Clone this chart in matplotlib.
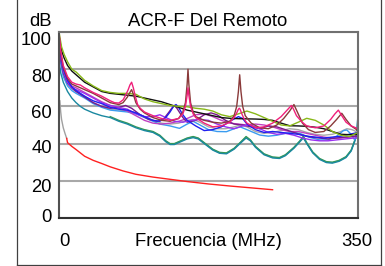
import matplotlib
matplotlib.use('Agg')
import matplotlib.pyplot as plt
from matplotlib.lines import Line2D

# ---------------- data ----------------
title = "ACR-F Del Remoto"
y_unit = "dB"
x_label = "Frecuencia (MHz)"
x_tick_labels = ["0", "350"]
x_range = [0, 350]
y_ticks = [0, 20, 40, 60, 80, 100]

limit_start_x = [1, 2, 3, 5, 7, 9]
limit_start_y = [63, 57, 53, 48.5, 45.5, 42.8]

limit_x = [9, 10, 15, 20, 30, 40, 50, 60, 75, 90, 110, 130, 150, 175, 200, 225, 250]
limit_y = [42.8, 40.5, 38.5, 36.8, 33.2, 31, 29.3, 27.5, 25.3, 23.5, 22, 20.8, 19.6, 18.3, 17.2, 16.2, 15.2]

olive_x = [0, 3, 6, 10, 15, 20, 30, 40, 50, 60, 70, 80, 90, 100, 110, 120, 130, 140, 150, 160, 170, 180, 190,
           200, 210, 220, 230, 240, 250, 260, 270, 280, 290, 300, 310, 320, 330, 340, 350]
olive_y = [100, 92, 88, 84, 80, 78.5, 74, 71, 68.5, 67.5, 67, 67, 66.5, 64, 62.5, 61.5, 60.5, 60, 59.8, 59, 58.5,
           57.5, 55.5, 54.5, 56, 57.5, 56, 54, 52, 50, 49.5, 51.5, 53.6, 52.5, 50, 46.5, 44.5, 43.8, 46]

black_x = olive_x
black_y = [98, 90, 86, 82, 79, 77, 73, 70.5, 68, 67, 66.5, 66, 65.5, 64.5, 63.5, 62.5, 61, 59.5, 58, 57, 56, 55,
           54, 53.6, 53.4, 53.3, 53.2, 53, 52.5, 51, 49.6, 49.5, 49.3, 48.8, 48, 46.5, 45, 44.8, 45]

pink_x = [0, 2, 5, 10, 15, 20, 25, 30, 40, 50, 60, 65, 70, 75, 78, 81, 83, 85, 87, 89, 92, 95, 100, 110, 120,
          130, 140, 145, 148, 150, 151, 152, 154, 157, 160, 170, 180, 190, 200, 205, 208, 210, 211, 212, 214,
          217, 220, 230, 240, 250, 260, 266, 270, 272, 274, 278, 284, 290, 300, 310, 318, 323, 327, 331, 336,
          342, 350]
pink_y = [100, 90, 82, 76, 73, 72, 71.5, 70, 67.5, 65.5, 63, 62, 61.8, 63.5, 66, 69, 71.5, 73, 70, 66, 61, 59,
          57, 55, 53.5, 52.5, 53.5, 56, 60, 66, 70, 66, 60, 56, 54, 51, 49, 49.5, 51.5, 54, 56.5, 58.5, 59, 58.5,
          56, 53, 51, 48.5, 49, 51, 54.5, 57.5, 59.5, 60.5, 59, 55, 51.8, 49.5, 48.5, 49.5, 53, 56, 58, 55,
          51.5, 49.5, 48]

brown_x = [0, 2, 5, 10, 15, 20, 30, 40, 50, 60, 70, 75, 80, 83, 85, 87, 90, 95, 100, 110, 120, 130, 140, 145,
           148, 150, 151, 152, 154, 157, 160, 170, 180, 190, 200, 205, 208, 210, 211.5, 213, 215, 218, 225, 235,
           245, 255, 263, 270, 275, 279, 285, 292, 300, 310, 318, 325, 331, 336, 342, 350]
brown_y = [99, 89, 81, 75, 72, 71, 69, 67, 64.5, 62, 61, 62, 65, 67.5, 69, 66.5, 62, 58.5, 56.5, 54, 52.5, 52,
           53.5, 57, 62, 72, 80, 72, 62, 57, 54.5, 52.5, 51.5, 51, 52, 55, 60, 68, 77, 68, 60, 55, 51, 48.5, 48,
           50, 53.5, 57.5, 61, 57, 51, 47.5, 46, 46.5, 49.5, 53, 56.3, 53, 49.5, 47]

blue_x = [0, 2, 5, 10, 15, 20, 30, 40, 50, 60, 70, 80, 90, 100, 110, 118, 125, 130, 134, 137, 140, 145, 150,
          160, 170, 180, 190, 200, 210, 215, 220, 230, 240, 250, 260, 270, 280, 290, 300, 310, 320, 330, 340, 350]
blue_y = [96, 88, 80, 74, 70.5, 68.5, 65.5, 63, 61.5, 59.5, 58.5, 58, 56.5, 54.5, 52.5, 52, 54, 57, 60, 61,
          59.5, 55.5, 52.5, 49.5, 47, 47.5, 49, 52, 54.5, 53.5, 50.5, 47.5, 46, 46.5, 46, 45.5, 45, 44, 43.5,
          43, 43.5, 44, 45, 46]

violet_x = [0, 2, 5, 10, 15, 20, 30, 40, 50, 60, 70, 80, 90, 100, 110, 118, 125, 135, 145, 155, 165, 175, 185,
            195, 205, 215, 225, 235, 245, 255, 265, 275, 285, 295, 305, 315, 325, 335, 345, 350]
violet_y = [97, 87, 79, 73, 70, 69, 67, 64.5, 62, 60.5, 59.5, 58.5, 56, 54.5, 54.5, 55.5, 54, 52, 51.5, 52.5,
            53, 52.5, 50.5, 49, 48, 49.5, 50, 48, 46, 45, 45.5, 44.5, 43, 42, 41.5, 41.5, 42, 42.5, 43, 43]

purple_x = [0, 2, 5, 10, 15, 20, 30, 40, 50, 60, 70, 78, 85, 95, 105, 115, 122, 128, 132, 135, 138, 145, 150,
            160, 170, 178, 185, 195, 205, 215, 225, 235, 245, 255, 265, 275, 285, 295, 305, 315, 325, 335, 345,
            350]
purple_y = [95, 85, 78, 72.5, 70, 68, 65, 62, 60, 59, 59.5, 60.5, 59, 55.5, 53, 52, 53, 56.5, 59, 60.5, 59, 54,
            51.5, 52.5, 55.5, 56.5, 55.5, 52.5, 50.5, 50, 49, 48, 49.5, 49, 47.5, 46, 44.5, 43.5, 43, 42.5, 43,
            43.5, 44, 44]

magenta_x = [0, 2, 5, 10, 15, 20, 30, 40, 50, 60, 70, 80, 90, 100, 110, 120, 130, 140, 150, 160, 170, 180, 190,
             200, 210, 220, 230, 240, 250, 260, 270, 280, 290, 300, 310, 320, 330, 340, 350]
magenta_y = [98, 88, 80, 74, 71, 70, 67.5, 65, 62.5, 60.5, 59, 57.5, 55, 52.5, 51, 50.5, 51, 52, 53.5, 55.5,
             56, 54.5, 52.5, 51, 50.5, 50, 50.5, 50, 49, 47.5, 46.5, 46.5, 45.5, 44.5, 43.5, 43, 43, 43.5, 44]

gray_x = [0, 2, 5, 10, 15, 20, 30, 40, 50, 60, 70, 80, 90, 100, 110, 120, 130, 140, 150, 157, 165, 175, 185, 195,
          205, 212, 220, 230, 240, 250, 260, 270, 280, 290, 300, 310, 320, 330, 337, 343, 350]
gray_y = [93, 84, 77, 72, 69.5, 68, 65.5, 62, 60, 58.5, 58, 57.5, 56.5, 54.5, 52.5, 51, 50.5, 51, 52.5, 53,
          51.5, 49, 48, 48, 49, 50, 49, 46.5, 45.5, 46, 47, 48, 47.5, 46, 45, 44.5, 45, 46.5, 48, 47.5, 46]

lightblue_x = [0, 2, 5, 10, 15, 20, 30, 40, 50, 60, 70, 80, 90, 100, 110, 118, 130, 141, 150, 157, 165, 175, 185,
               196, 205, 212, 220, 235, 245, 255, 265, 275, 282, 292, 305, 315, 325, 333, 337, 342, 346, 350]
lightblue_y = [92, 83, 76, 71, 68.5, 67, 64.5, 61.5, 59.5, 58, 57.5, 57, 56, 54, 52, 50.5, 49.5, 48.2, 50.5,
               52, 50, 47.5, 46.5, 46.4, 48, 49, 47.5, 44.6, 44, 44.5, 45.5, 46, 45.5, 43.5, 42, 42, 44, 47,
               47.3, 45, 42, 45]

teal_x = [0, 2, 5, 10, 15, 20, 25, 30, 40, 50, 60, 70, 80, 90, 100, 110, 118, 125, 130, 135, 140, 150, 157, 163,
          170, 180, 188, 196, 205, 213, 219, 224, 230, 240, 250, 258, 265, 275, 282, 286, 290, 297, 305, 313,
          320, 328, 336, 342, 346, 348, 350]
teal_y = [85, 78, 73, 68, 64.5, 62, 60, 58.5, 56.5, 55, 54, 52, 50.5, 48.5, 47, 46, 44, 41, 39.5, 39.5, 40.5,
          42.5, 43.2, 42.5, 40, 36.5, 34.8, 34.5, 37, 40.5, 43, 41.5, 38, 34, 32.3, 32, 33.5, 37.5, 41, 43, 40,
          35, 31.5, 29.8, 29.5, 30.5, 32.5, 36, 41, 45, 55]

green_x = [60, 70, 80, 90, 100, 110, 118, 125, 130, 135, 140, 150, 157, 163, 170, 180, 188, 196, 205, 213, 219,
           224, 230, 240, 250, 258, 265, 275, 282, 286, 290, 297, 305, 313, 320, 328, 336, 342, 346, 350]
green_y = [54.5, 52.5, 51, 49, 47.5, 46.5, 44.5, 41.5, 40, 40, 41, 43, 43.8, 43, 40.5, 37, 35.3, 35, 37.5, 41,
           43.8, 42, 38.5, 34.5, 32.8, 32.5, 34, 38, 41.5, 44, 40.5, 35.5, 32, 30.3, 30, 31, 33, 36.5, 41.5, 46]

cyan_x = [100, 110, 118, 125, 130, 135, 140, 150, 157, 163, 170, 180, 188, 196, 205, 213, 219, 224, 230, 240,
          250, 258, 265, 275, 282, 286, 290, 297, 305, 313, 320, 328, 336, 342, 346, 350]
cyan_y = [47.3, 46.3, 44.3, 41.3, 39.8, 39.8, 40.8, 42.8, 43.6, 42.8, 40.3, 36.8, 35, 34.8, 37.3, 40.8, 43.5,
          41.8, 38.3, 34.3, 32.6, 32.3, 33.8, 37.8, 41.3, 43.6, 40.3, 35.3, 31.8, 30, 29.8, 30.8, 32.8, 36.3,
          41.3, 47]

series = [
    (cyan_x, cyan_y, '#5ab8d8'),
    (green_x, green_y, '#3a9a50'),
    (teal_x, teal_y, '#1a88a0'),
    (gray_x, gray_y, '#a8a8a8'),
    (lightblue_x, lightblue_y, '#3a9cf0'),
    (magenta_x, magenta_y, '#c040c0'),
    (purple_x, purple_y, '#7a1a8a'),
    (violet_x, violet_y, '#9a30f0'),
    (blue_x, blue_y, '#2020f0'),
    (black_x, black_y, '#101010'),
    (olive_x, olive_y, '#88b818'),
    (brown_x, brown_y, '#8a3a3a'),
    (pink_x, pink_y, '#f0207a'),
]

# ---------------- drawing ----------------
W, H = 385, 266
plt.rcParams['font.family'] = ['Liberation Sans', 'DejaVu Sans']
fig = plt.figure(figsize=(W / 100, H / 100), dpi=100)
fig.patch.set_facecolor('white')


def fx(px):
    return px / W


def fy(py):
    return 1 - py / H


ax_l, ax_r, ax_t, ax_b = 59, 358, 32, 218
ax = fig.add_axes([fx(ax_l), fy(ax_b), (ax_r - ax_l) / W, (ax_b - ax_t) / H])
ax.set_xlim(*x_range)
ax.set_ylim(y_ticks[0], y_ticks[-1])
ax.set_yticks(y_ticks)
ax.set_xticks([])
ax.tick_params(axis='y', length=0, labelleft=False)
ax.yaxis.grid(True, color='#a8a8a8', linewidth=1.5)
ax.set_axisbelow(True)
for side, col in [('left', '#505050'), ('bottom', '#303030'), ('top', '#707070'), ('right', '#707070')]:
    ax.spines[side].set_color(col)
    ax.spines[side].set_linewidth(1.5)

ax.plot(limit_start_x, limit_start_y, color='#a0a0a0', lw=1.0)
ax.plot(limit_x, limit_y, color='#ff2020', lw=1.0)
for xs, ys, c in series:
    ax.plot(xs, ys, color=c, lw=1.0)

fs = 13.3
# y tick labels (slightly offset as in the original)
offsets = {0: -2, 20: 4.5, 40: 3, 60: 4.6, 80: 5.8, 100: 6.3}
for v in y_ticks:
    py = ax_b - (v - y_ticks[0]) / (y_ticks[-1] - y_ticks[0]) * (ax_b - ax_t) + offsets[v]
    fig.text(fx(52), fy(py), str(v), ha='right', va='center_baseline', fontsize=fs)

fig.text(fx(64), fy(239), x_tick_labels[0], ha='center', va='center_baseline', fontsize=fs)
fig.text(fx(357), fy(239), x_tick_labels[1], ha='center', va='center_baseline', fontsize=fs)
fig.text(fx(208), fy(239), x_label, ha='center', va='center_baseline', fontsize=fs)
fig.text(fx(41), fy(19), y_unit, ha='center', va='center_baseline', fontsize=fs)
fig.text(fx(208), fy(19), title, ha='center', va='center_baseline', fontsize=fs)

# outer frame
frame_col = '#404040'
fig.add_artist(Line2D([fx(16.5), fx(16.5)], [fy(264.5), 1], color=frame_col, lw=0.9))
fig.add_artist(Line2D([fx(380.5), fx(380.5)], [fy(264.5), 1], color=frame_col, lw=0.9))
fig.add_artist(Line2D([fx(16.5), fx(380.5)], [fy(264.5), fy(264.5)], color=frame_col, lw=0.9))

fig.savefig('out.png', dpi=100, facecolor='white')
